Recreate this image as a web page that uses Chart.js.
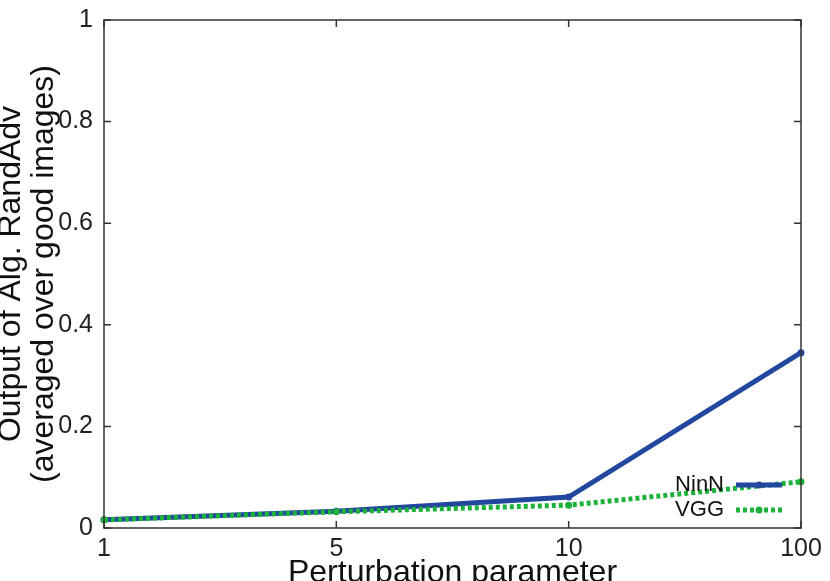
<!DOCTYPE html>
<html>
<head>
<meta charset="utf-8">
<script src="https://cdn.jsdelivr.net/npm/chart.js@4/dist/chart.umd.min.js"></script>
<style>
  html, body { margin: 0; padding: 0; background: #fff; }
  #wrap { width: 830px; height: 581px; }
</style>
</head>
<body>
<div id="wrap"><canvas id="lineChart" width="830" height="581"></canvas></div>
<script>
// values
const perturbations = ['1', '5', '10', '100']
const ninnValues = [0.016, 0.033, 0.061, 0.345]
const vggValues = [0.016, 0.032, 0.045, 0.091]
const yTicks = [0, 0.2, 0.4, 0.6, 0.8, 1]
const yTickLabels = ['0', '0.2', '0.4', '0.6', '0.8', '1']

const FONT = "'Liberation Sans', Arial, sans-serif"

// gnuplot style box with ticks pointing inward + legend inside the plot
const boxPlugin = {
  id: 'boxPlugin',
  afterDraw(chart) {
    const ctx = chart.ctx
    const a = chart.chartArea
    const x = chart.scales.x
    const y = chart.scales.y
    const tl = 7
    ctx.save()
    ctx.strokeStyle = '#333'
    ctx.lineWidth = 1.5
    ctx.strokeRect(a.left, a.top, a.right - a.left, a.bottom - a.top)
    ctx.beginPath()
    y.ticks.forEach(t => {
      const py = y.getPixelForValue(t.value)
      ctx.moveTo(a.left, py); ctx.lineTo(a.left + tl, py)
      ctx.moveTo(a.right, py); ctx.lineTo(a.right - tl, py)
    })
    x.ticks.forEach((t, i) => {
      const px = x.getPixelForTick(i)
      ctx.moveTo(px, a.bottom); ctx.lineTo(px, a.bottom - tl)
      ctx.moveTo(px, a.top); ctx.lineTo(px, a.top + tl)
    })
    ctx.stroke()

    // legend
    ctx.font = '22px ' + FONT
    ctx.textAlign = 'right'
    ctx.textBaseline = 'middle'
    chart.data.datasets.forEach((ds, i) => {
      const ly = a.bottom - 43 + i * 25
      const tx = a.right - 77
      ctx.fillStyle = '#111'
      ctx.fillText(ds.label, tx, ly)
      ctx.beginPath()
      ctx.strokeStyle = ds.borderColor
      ctx.lineWidth = ds.borderWidth
      ctx.setLineDash(ds.borderDash || [])
      ctx.moveTo(tx + 12, ly); ctx.lineTo(tx + 58, ly)
      ctx.stroke()
      ctx.setLineDash([])
      ctx.beginPath()
      ctx.fillStyle = ds.borderColor
      ctx.arc(tx + 35, ly, 3.5, 0, Math.PI * 2)
      ctx.fill()
    })
    ctx.restore()
  }
}

const data = {
  labels: perturbations,
  datasets: [{
    label: 'NinN',
    data: ninnValues,
    borderColor: 'rgb(33, 71, 158)',
    backgroundColor: 'rgb(33, 71, 158)',
    borderWidth: 5,
    pointRadius: 3.5,
    pointBorderWidth: 0,
    order: 1,
    clip: false
  }, {
    label: 'VGG',
    data: vggValues,
    borderColor: 'rgb(29, 178, 58)',
    backgroundColor: 'rgb(29, 178, 58)',
    borderWidth: 5,
    borderDash: [4, 3],
    borderCapStyle: 'butt',
    pointRadius: 3.5,
    pointBorderWidth: 0,
    order: 0,
    clip: false
  }]
}

const ctx = document.getElementById('lineChart').getContext('2d')

const myChart = new Chart(ctx, {
  type: 'line',
  data: data,
  options: {
    responsive: false,
    animation: false,
    layout: { padding: { left: 0, top: 20, right: 29, bottom: 0 } },
    plugins: {
      legend: { display: false },
      tooltip: { enabled: false }
    },
    scales: {
      x: {
        type: 'category',
        offset: false,
        grid: { display: false, drawTicks: false },
        border: { display: false },
        ticks: {
          padding: 6,
          color: '#222',
          font: { family: FONT, size: 25 },
          maxRotation: 0
        },
        title: {
          display: true,
          text: 'Perturbation parameter',
          color: '#111',
          font: { family: FONT, size: 32, lineHeight: 1.2 },
          padding: { top: 0, bottom: -11 }
        },
        afterFit(scale) {
          scale.height = 53
          scale.paddingLeft = 0
          scale.paddingRight = 0
        }
      },
      y: {
        min: 0,
        max: 1,
        afterBuildTicks(scale) { scale.ticks = yTicks.map(v => ({ value: v })) },
        grid: { display: false, drawTicks: false },
        border: { display: false },
        ticks: {
          padding: 11,
          color: '#222',
          font: { family: FONT, size: 25 },
          callback: (v, i) => yTickLabels[i]
        },
        title: {
          display: true,
          text: ['Output of Alg. RandAdv', '(averaged over good images)'],
          color: '#111',
          font: { family: FONT, size: 32, lineHeight: 1.05 },
          padding: { top: -6, bottom: 0 }
        },
        afterFit(scale) {
          scale.width = 104
          scale.paddingTop = 0
          scale.paddingBottom = 0
        }
      }
    }
  },
  plugins: [boxPlugin]
})
</script>
</body>
</html>
